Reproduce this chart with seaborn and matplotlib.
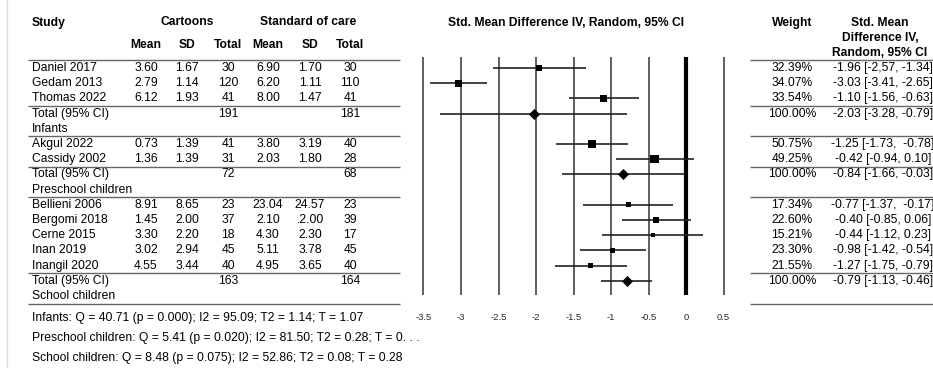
import numpy as np
import matplotlib
matplotlib.use("Agg")
import matplotlib.pyplot as plt
import seaborn as sns

sns.set_theme(style="white")
plt.rcParams['font.family'] = ['Liberation Sans', 'DejaVu Sans']
plt.rcParams['axes.unicode_minus'] = False

# --- data ---
groups = ["Infants", "Preschool children", "School children"]
studies = ["Daniel 2017", "Gedam 2013", "Thomas 2022",
           "Akgul 2022", "Cassidy 2002",
           "Bellieni 2006", "Bergomi 2018", "Cerne 2015", "Inan 2019", "Inangil 2020"]
group_of = [0, 0, 0, 1, 1, 2, 2, 2, 2, 2]

cart_mean = ["3.60", "2.79", "6.12", "0.73", "1.36", "8.91", "1.45", "3.30", "3.02", "4.55"]
cart_sd = ["1.67", "1.14", "1.93", "1.39", "1.39", "8.65", "2.00", "2.20", "2.94", "3.44"]
cart_n = [30, 120, 41, 41, 31, 23, 37, 18, 45, 40]
soc_mean = ["6.90", "6.20", "8.00", "3.80", "2.03", "23.04", "2.10", "4.30", "5.11", "4.95"]
soc_sd = ["1.70", "1.11", "1.47", "3.19", "1.80", "24.57", ".2.00", "2.30", "3.78", "3.65"]
soc_n = [30, 110, 41, 40, 28, 23, 39, 17, 45, 40]

smd = [-1.96, -3.03, -1.10, -1.25, -0.42, -0.77, -0.40, -0.44, -0.98, -1.27]
smd_lo = [-2.57, -3.41, -1.56, -1.73, -0.94, -1.37, -0.85, -1.12, -1.42, -1.75]
smd_hi = [-1.34, -2.65, -0.63, -0.78, 0.10, -0.17, 0.06, 0.23, -0.54, -0.79]
weights = [32.39, 34.07, 33.54, 50.75, 49.25, 17.34, 22.60, 15.21, 23.30, 21.55]
ci_text = ["-1.96 [-2,57, -1.34]", "-3.03 [-3.41, -2.65]", "-1.10 [-1.56, -0.63]",
           "-1.25 [-1.73,  -0.78]", "-0.42 [-0.94, 0.10]",
           "-0.77 [-1.37,  -0.17]", "-0.40 [-0.85, 0.06]", "-0.44 [-1.12, 0.23]",
           "-0.98 [-1.42, -0.54]", "-1.27 [-1.75, -0.79]"]

pooled = [-2.03, -0.84, -0.79]
pooled_lo = [-3.28, -1.66, -1.13]
pooled_hi = [-0.79, -0.03, -0.46]
pooled_text = ["-2.03 [-3.28, -0.79]", "-0.84 [-1.66, -0.03]", "-0.79 [-1.13, -0.46]"]
total_cart = [191, 72, 163]
total_soc = [181, 68, 164]

het_text = ["Infants: Q = 40.71 (p = 0.000); I2 = 95.09; T2 = 1.14; T = 1.07",
            "Preschool children: Q = 5.41 (p = 0.020); I2 = 81.50; T2 = 0.28; T = 0. . .",
            "School children: Q = 8.48 (p = 0.075); I2 = 52.86; T2 = 0.08; T = 0.28"]

# --- row layout: studies, total, group label ---
study_row, total_row, label_row = [], [], []
k = 0
for g in range(len(groups)):
    for i, gg in enumerate(group_of):
        if gg == g:
            study_row.append(k)
            k += 1
    total_row.append(k)
    label_row.append(k + 1)
    k += 2

ROW0, ROWH = 68, 15.2
def ry(r):
    return ROW0 + ROWH * r

fig = plt.figure(figsize=(9.33, 3.68), dpi=100)
bg = fig.add_axes([0, 0, 1, 1])
bg.set_xlim(0, 933)
bg.set_ylim(368, 0)
bg.axis('off')

FS = 8.7
tk = dict(fontsize=FS, color='black', va='center')

bg.axvline(7, color='#dddddd', lw=1)

# headers
bg.text(32, 23, "Study", ha='left', fontweight='bold', **tk)
bg.text(187, 22, "Cartoons", ha='center', fontweight='bold', **tk)
bg.text(308, 22, "Standard of care", ha='center', fontweight='bold', **tk)
cols = [146, 187, 228, 268, 310, 350]
for cx, h in zip(cols, ["Mean", "SD", "Total", "Mean", "SD", "Total"]):
    bg.text(cx, 45, h, ha='center', fontweight='bold', **tk)
bg.text(566, 23, "Std. Mean Difference IV, Random, 95% CI", ha='center', fontweight='bold', **tk)
bg.text(792, 23, "Weight", ha='center', fontweight='bold', **tk)
for yy, h in zip([23, 38, 53], ["Std. Mean", "Difference IV,", "Random, 95% CI"]):
    bg.text(880, yy, h, ha='center', fontweight='bold', **tk)

# study rows
for i, r in enumerate(study_row):
    y = ry(r)
    bg.text(32, y, studies[i], ha='left', **tk)
    for cx, v in zip(cols, [cart_mean[i], cart_sd[i], cart_n[i], soc_mean[i], soc_sd[i], soc_n[i]]):
        bg.text(cx, y, str(v), ha='center', **tk)
    bg.text(792, y, f"{weights[i]:.2f}%", ha='center', **tk)
    bg.text(883, y, ci_text[i], ha='center', **tk)

for g in range(len(groups)):
    y = ry(total_row[g])
    bg.text(32, y, "Total (95% CI)", ha='left', **tk)
    bg.text(228, y, str(total_cart[g]), ha='center', **tk)
    bg.text(350, y, str(total_soc[g]), ha='center', **tk)
    bg.text(792, y, "100.00%", ha='center', **tk)
    bg.text(883, y, pooled_text[g], ha='center', **tk)
    bg.text(32, ry(label_row[g]), groups[g], ha='left', **tk)

# separator lines
sep = [-0.5] + [total_row[0] - 0.5, label_row[0] + 0.5, total_row[1] - 0.5,
                label_row[1] + 0.5, total_row[2] - 0.5, label_row[2] + 0.5]
for s in sep:
    bg.hlines(ry(s), 28, 400, color='#666666', lw=1)
    bg.hlines(ry(s), 750, 933, color='#666666', lw=1)

for j, t in enumerate(het_text):
    bg.text(32, 318 + 20 * j, t, ha='left', **tk)

# --- forest plot ---
top_px, bot_px = 57, 295
ax = fig.add_axes([401 / 933, 1 - bot_px / 368, 345 / 933, (bot_px - top_px) / 368])
ax.set_xlim(-3.8, 0.8)
ax.set_ylim((bot_px - ROW0) / ROWH, (top_px - ROW0) / ROWH)
ax.set_facecolor('none')
for sp in ax.spines.values():
    sp.set_visible(False)
ax.set_yticks([])
ax.set_xticks(np.arange(-3.5, 0.51, 0.5))
ax.xaxis.set_major_formatter(plt.FuncFormatter(lambda x, _: f"{x:g}"))
ax.tick_params(axis='x', length=0, pad=13, labelsize=6.8)
ax.grid(axis='x', color='#444444', lw=1.2)
ax.set_axisbelow(True)
ax.axvline(0, color='black', lw=3, zorder=1)

ax.hlines(study_row, smd_lo, smd_hi, color='#222222', lw=1.2, zorder=3)
ax.hlines(total_row, pooled_lo, pooled_hi, color='#222222', lw=1.2, zorder=3)
sns.scatterplot(x=smd, y=study_row, s=np.array(weights) * 0.72, marker='s',
                color='black', linewidth=0, legend=False, ax=ax, zorder=4)
sns.scatterplot(x=pooled, y=total_row, s=32, marker='D',
                color='black', linewidth=0, legend=False, ax=ax, zorder=4)
ax.set_xlabel('')
ax.set_ylabel('')

fig.savefig("out.png", dpi=100)
